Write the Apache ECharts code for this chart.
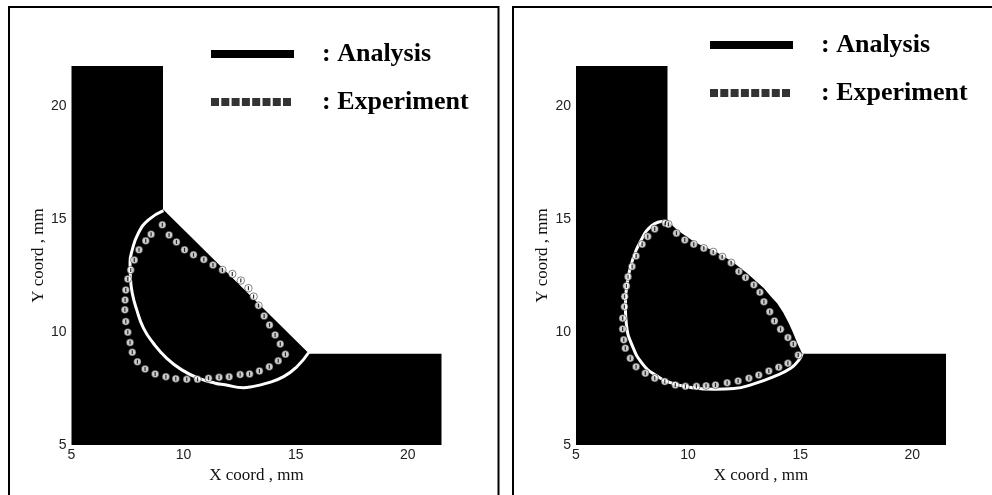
<!DOCTYPE html>
<html>
<head>
<meta charset="utf-8">
<title>Weld section profile</title>
<style>
  html, body { margin: 0; padding: 0; background: #fff; }
  #main { width: 992px; height: 495px; }
</style>
<script src="https://cdn.jsdelivr.net/npm/echarts@6/dist/echarts.min.js"></script>
</head>
<body>
<div id="main"></div>
<script>
const tickValues = [5, 10, 15, 20];
const xName = 'X coord , mm';
const yName = 'Y coord , mm';
const analysisName = ': Analysis';
const experimentName = ': Experiment';

// black section outline, left plot
const leftSection = [[5,5],[21.5,5],[21.5,9.05],[15.6,9.05],[9.08,15.45],[9.08,21.8],[5,21.8]];

// white curve, left plot
const leftAnalysis = [[9.10,15.39],[8.43,14.98],[7.98,14.39],[7.71,13.65],[7.61,13.06],[7.63,12.39],
  [7.71,11.73],[7.91,10.99],[8.21,10.18],[8.65,9.51],[9.25,8.84],[9.92,8.33],[10.66,7.96],[11.41,7.74],[11.85,7.67],
  [12.67,7.54],[12.97,7.57],[13.71,7.74],[14.46,8.03],[15.05,8.47],[15.57,9.09]];

// measured points, left plot
const leftExperiment = [[9.05,14.76],[8.55,14.34],[8.31,14.05],[8.01,13.65],[7.80,13.20],[7.64,12.76],[7.51,12.36],
  [7.42,11.87],[7.39,11.43],[7.38,10.99],[7.42,10.47],[7.51,10.00],[7.61,9.54],[7.71,9.11],[7.94,8.69],[8.28,8.37],
  [8.73,8.15],[9.21,8.03],[9.65,7.94],[10.14,7.91],[10.62,7.91],[11.11,7.96],[11.58,8.00],[12.03,8.02],[12.52,8.12],
  [12.94,8.15],[13.38,8.28],[13.82,8.47],[14.22,8.73],[14.54,9.02],[14.31,9.48],[14.08,9.88],[13.83,10.32],[13.59,10.72],
  [13.34,11.18],[13.12,11.58],[12.89,11.95],[12.55,12.29],[12.17,12.58],[11.73,12.76],[11.31,12.98],[10.90,13.22],
  [10.44,13.43],[10.04,13.65],[9.68,14.00],[9.35,14.31]];

// black section outline, right plot
const rightSection = [[5,5],[21.5,5],[21.5,9.05],[15.09,9.05],[14.87,9.51],[14.69,9.95],[14.49,10.40],[14.24,10.87],
  [13.97,11.28],[13.67,11.61],[13.38,11.95],[12.63,12.61],[11.96,13.13],[11.29,13.53],[10.55,13.87],[10.25,14.02],
  [9.51,14.53],[9.13,14.90],[9.08,15.0],[9.08,21.8],[5,21.8]];

// white curve, right plot
const rightAnalysis = [[8.99,14.93],[8.39,14.73],[7.87,14.02],[7.50,13.13],[7.28,12.17],[7.20,11.21],[7.25,10.32],
  [7.50,9.43],[7.95,8.62],[8.54,8.10],[9.29,7.74],[10.18,7.54],[11.22,7.47],[12.04,7.50],[12.93,7.71],[13.82,8.03],
  [14.57,8.40],[14.94,8.77],[15.09,9.04]];

// measured points, right plot
const rightExperiment = [[8.99,14.83],[8.51,14.58],[8.20,14.24],[7.95,13.90],[7.68,13.38],[7.50,12.91],[7.32,12.46],
  [7.25,12.05],[7.17,11.58],[7.16,11.13],[7.08,10.62],[7.08,10.14],[7.13,9.66],[7.20,9.29],[7.42,8.84],[7.68,8.47],
  [8.09,8.18],[8.51,7.96],[8.96,7.81],[9.43,7.66],[9.88,7.60],[10.37,7.60],[10.80,7.63],[11.22,7.66],[11.74,7.76],
  [12.23,7.84],[12.71,7.96],[13.15,8.10],[13.60,8.28],[14.04,8.45],[14.45,8.62],[14.91,8.99],[14.69,9.48],[14.45,9.76],
  [14.12,10.13],[13.85,10.50],[13.64,10.91],[13.38,11.35],[13.20,11.77],[12.93,12.10],[12.56,12.42],[12.26,12.69],
  [11.92,13.08],[11.52,13.34],[11.12,13.56],[10.70,13.72],[10.25,13.90],[9.85,14.09],[9.48,14.39],[9.12,14.78]];

const dottedIcon = 'path://M0 0h8v8h-8zM10.3 0h8v8h-8zM20.6 0h8v8h-8zM30.9 0h8v8h-8zM41.2 0h8v8h-8zM51.5 0h8v8h-8zM61.8 0h8v8h-8zM72 0h8v8h-8zM83 0h0v8h0z';

function sectionSeries(points, idx) {
  return {
    type: 'custom',
    xAxisIndex: idx,
    yAxisIndex: idx,
    silent: true,
    z: 1,
    data: points,
    renderItem: function (params, api) {
      if (params.dataIndex !== 0) return null;
      return {
        type: 'polygon',
        shape: { points: points.map(p => api.coord(p)) },
        style: { fill: '#000' }
      };
    }
  };
}

function panelSeries(section, analysis, experiment, idx) {
  return [
    sectionSeries(section, idx),
    {
      name: analysisName,
      type: 'line',
      xAxisIndex: idx,
      yAxisIndex: idx,
      data: analysis,
      smooth: 0.5,
      showSymbol: false,
      silent: true,
      z: 2,
      lineStyle: { color: '#fff', width: 3 },
      itemStyle: { color: '#fff' }
    },
    {
      name: experimentName,
      type: 'scatter',
      xAxisIndex: idx,
      yAxisIndex: idx,
      data: experiment,
      symbol: 'circle',
      symbolSize: 7.5,
      silent: true,
      z: 3,
      itemStyle: { color: '#fff', borderColor: '#000', borderWidth: 0.6 }
    },
    {
      name: 'experiment core',
      type: 'scatter',
      xAxisIndex: idx,
      yAxisIndex: idx,
      data: experiment,
      symbol: 'rect',
      symbolSize: [1.2, 4],
      silent: true,
      z: 4,
      itemStyle: { color: '#000' }
    }
  ];
}

function legendFor(left, top, gap) {
  return {
    left: left,
    top: top,
    orient: 'vertical',
    align: 'left',
    padding: 0,
    itemWidth: 83,
    itemHeight: 8,
    itemGap: gap,
    symbolKeepAspect: false,
    selectedMode: false,
    textStyle: {
      fontFamily: 'Liberation Serif',
      fontWeight: 'bold',
      fontSize: 26,
      color: '#000',
      padding: [0, 0, 4, 23]
    },
    data: [
      { name: analysisName, icon: 'rect', itemStyle: { color: '#000', borderWidth: 0 } },
      { name: experimentName, icon: dottedIcon, itemStyle: { color: '#000', borderWidth: 0 } }
    ]
  };
}

function xAxisFor(idx) {
  return {
    gridIndex: idx,
    type: 'value',
    min: 5,
    max: 21.5,
    splitLine: { show: false },
    axisLine: { show: false },
    axisTick: { show: false },
    axisLabel: {
      customValues: tickValues,
      fontFamily: 'Liberation Sans',
      fontSize: 14,
      color: '#222',
      margin: 3
    },
    name: xName,
    nameLocation: 'middle',
    nameGap: 14,
    nameTextStyle: { fontFamily: 'Liberation Serif', fontSize: 17, color: '#111' }
  };
}

function yAxisFor(idx) {
  return {
    gridIndex: idx,
    type: 'value',
    min: 5,
    max: 21.8,
    splitLine: { show: false },
    axisLine: { show: false },
    axisTick: { show: false },
    axisLabel: {
      customValues: tickValues,
      fontFamily: 'Liberation Sans',
      fontSize: 14,
      color: '#222',
      margin: 5,
      padding: [3, 0, 0, 0]
    },
    name: yName,
    nameLocation: 'middle',
    nameRotate: 90,
    nameGap: 24,
    nameTextStyle: { fontFamily: 'Liberation Serif', fontSize: 17, color: '#111' }
  };
}

// panel frames, no bottom edge in the source
function frameLine(x1, y1, x2, y2) {
  return { type: 'line', shape: { x1, y1, x2, y2 }, style: { stroke: '#000', lineWidth: 2 }, silent: true };
}

const myChart = echarts.init(document.getElementById('main'), null, { renderer: 'canvas' });
myChart.setOption({
  animation: false,
  backgroundColor: '#fff',
  grid: [
    { left: 71.5, top: 66, width: 370, height: 379 },
    { left: 576, top: 66, width: 370, height: 379 }
  ],
  xAxis: [xAxisFor(0), xAxisFor(1)],
  yAxis: [yAxisFor(0), yAxisFor(1)],
  legend: [legendFor(211, 41, 22), legendFor(710, 32, 22)],
  graphic: [
    frameLine(8, 7, 499, 7),
    frameLine(9, 6, 9, 495),
    frameLine(498.5, 6, 498.5, 495),
    frameLine(512, 7, 992, 7),
    frameLine(513, 6, 513, 495)
  ],
  series: panelSeries(leftSection, leftAnalysis, leftExperiment, 0)
    .concat(panelSeries(rightSection, rightAnalysis, rightExperiment, 1))
});
</script>
</body>
</html>
